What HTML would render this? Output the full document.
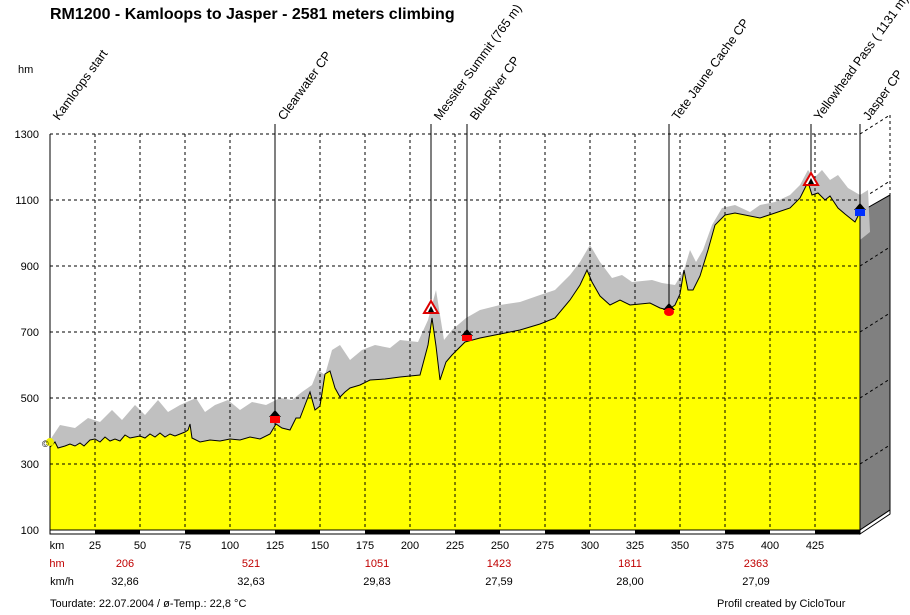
<!DOCTYPE html>
<html><head><meta charset="utf-8"><style>
body{margin:0;background:#fff;}
svg text{font-family:"Liberation Sans",Arial,sans-serif;}
</style></head><body>
<svg width="910" height="610" xmlns="http://www.w3.org/2000/svg">
<rect width="910" height="610" fill="#fff"/>
<text x="50" y="19" font-size="16" font-weight="bold">RM1200  - Kamloops to Jasper - 2581 meters climbing</text>
<text x="18" y="73" font-size="11">hm</text>
<polygon points="860,212 890,195 890,510 860,530" fill="#808080" stroke="#000" stroke-width="1"/>
<g stroke="#000" stroke-width="1" stroke-dasharray="3,3" fill="none">
<line x1="860" y1="134" x2="890" y2="115"/>
<line x1="890" y1="115" x2="890" y2="195"/>
<line x1="860" y1="200" x2="890" y2="181"/>
<line x1="860" y1="266" x2="890" y2="247"/>
<line x1="860" y1="332" x2="890" y2="313"/>
<line x1="860" y1="398" x2="890" y2="379"/>
<line x1="860" y1="464" x2="890" y2="445"/>
</g>
<polygon fill="#c0c0c0" points="50,440 60,425 75,428 88,418 100,422 112,410 122,420 135,405 145,415 158,400 168,412 180,405 196,398 205,412 215,405 228,400 240,410 252,402 266,405 280,398 292,400 302,392 312,385 318,370 325,375 332,350 340,345 350,360 362,350 375,345 390,348 400,340 418,342 428,320 436,290 444,340 452,330 466,318 480,310 500,305 520,302 540,295 555,290 570,275 580,262 590,245 600,262 612,278 622,275 632,282 652,280 662,283 675,285 684,270 690,250 696,262 703,250 712,225 722,208 735,205 750,212 760,205 775,202 790,195 800,185 808,170 814,178 822,170 830,180 838,175 848,188 860,195 868,190 870,232 860,240 860,530 50,530"/>
<polygon fill="#ffff00" stroke="#000" stroke-width="1" points="50,447 55,442 58,448 65,446 70,444 75,446 80,443 84,446 90,440 95,439 100,442 105,437 110,441 115,439 120,441 125,435 130,438 135,437 140,436 145,438 150,434 155,437 160,433 165,437 170,434 175,436 180,434 185,432 188,430 190,424 192,438 200,442 210,440 220,441 230,439 240,440 250,437 260,439 270,434 276,424 282,428 290,430 296,418 300,418 305,405 310,392 315,410 320,406 325,374 330,371 335,388 340,397 345,392 350,388 360,385 370,380 385,379 400,377 420,375 428,345 432,318 436,346 440,380 446,362 452,355 465,342 480,338 500,334 520,330 540,324 555,318 570,300 580,285 587,270 592,282 600,296 610,305 620,300 630,305 650,303 660,308 668,310 675,305 680,294 684,270 688,290 693,290 700,276 708,250 715,225 725,215 735,213 750,216 760,218 775,213 790,208 800,198 808,182 812,195 818,193 825,200 830,196 838,208 845,214 855,222 860,212 860,530 50,530"/>
<g stroke="#000" stroke-width="1" stroke-dasharray="3,3" fill="none">
<line x1="50" y1="134" x2="860" y2="134"/>
<line x1="50" y1="200" x2="860" y2="200"/>
<line x1="50" y1="266" x2="860" y2="266"/>
<line x1="50" y1="332" x2="860" y2="332"/>
<line x1="50" y1="398" x2="860" y2="398"/>
<line x1="50" y1="464" x2="860" y2="464"/>
<line x1="95" y1="134" x2="95" y2="530"/><line x1="140" y1="134" x2="140" y2="530"/>
<line x1="185" y1="134" x2="185" y2="530"/><line x1="230" y1="134" x2="230" y2="530"/>
<line x1="275" y1="134" x2="275" y2="530"/><line x1="320" y1="134" x2="320" y2="530"/>
<line x1="365" y1="134" x2="365" y2="530"/><line x1="410" y1="134" x2="410" y2="530"/>
<line x1="455" y1="134" x2="455" y2="530"/><line x1="500" y1="134" x2="500" y2="530"/>
<line x1="545" y1="134" x2="545" y2="530"/><line x1="590" y1="134" x2="590" y2="530"/>
<line x1="635" y1="134" x2="635" y2="530"/><line x1="680" y1="134" x2="680" y2="530"/>
<line x1="725" y1="134" x2="725" y2="530"/><line x1="770" y1="134" x2="770" y2="530"/>
<line x1="815" y1="134" x2="815" y2="530"/>
</g>
<line x1="50" y1="134" x2="50" y2="530" stroke="#000"/>
<line x1="860" y1="134" x2="860" y2="530" stroke="#000"/>
<g stroke="#000" stroke-width="1">
<line x1="275" y1="124" x2="275" y2="412"/>
<line x1="431" y1="124" x2="431" y2="302"/>
<line x1="467" y1="124" x2="467" y2="330"/>
<line x1="669" y1="124" x2="669" y2="305"/>
<line x1="811" y1="124" x2="811" y2="175"/>
<line x1="860" y1="124" x2="860" y2="205"/>
</g>
<polygon points="269,417 275,410 281,417" fill="#000"/><rect x="270" y="416" width="10" height="7" fill="#f00"/>
<polygon points="424,313 431,301 438,313" fill="#fff" stroke="#d00" stroke-width="2"/><polygon points="428,312 431,306 434,312" fill="#000"/>
<polygon points="461,336 467,329 473,336" fill="#000"/><rect x="462" y="335" width="10" height="6" fill="#f00"/>
<polygon points="663,310 669,303 675,310" fill="#000"/><ellipse cx="669" cy="312" rx="5" ry="4" fill="#f00"/>
<polygon points="804,185 811,173 818,185" fill="#fff" stroke="#d00" stroke-width="2"/><polygon points="808,184 811,178 814,184" fill="#000"/>
<polygon points="854,210 860,203 866,210" fill="#000"/><rect x="855" y="209" width="10" height="7" fill="#0030ff"/>
<circle cx="50" cy="442" r="4" fill="#ee0"/><text x="42" y="447" font-size="9">©</text>
<rect x="50" y="530" width="810" height="4" fill="#fff" stroke="#000" stroke-width="1"/>
<g fill="#000"><rect x="95" y="530" width="45" height="4"/><rect x="185" y="530" width="45" height="4"/><rect x="275" y="530" width="45" height="4"/><rect x="365" y="530" width="45" height="4"/><rect x="455" y="530" width="45" height="4"/><rect x="545" y="530" width="45" height="4"/><rect x="635" y="530" width="45" height="4"/><rect x="725" y="530" width="45" height="4"/><rect x="815" y="530" width="45" height="4"/></g>
<polygon points="860,530 890,510 890,514 860,534" fill="#fff" stroke="#000"/>
<g font-size="11" text-anchor="end">
<text x="39" y="138">1300</text><text x="39" y="204">1100</text><text x="39" y="270">900</text>
<text x="39" y="336">700</text><text x="39" y="402">500</text><text x="39" y="468">300</text><text x="39" y="534">100</text>
</g>
<g font-size="11" text-anchor="middle">
<text x="57" y="549">km</text>
<text x="95" y="549">25</text><text x="140" y="549">50</text><text x="185" y="549">75</text><text x="230" y="549">100</text>
<text x="275" y="549">125</text><text x="320" y="549">150</text><text x="365" y="549">175</text><text x="410" y="549">200</text>
<text x="455" y="549">225</text><text x="500" y="549">250</text><text x="545" y="549">275</text><text x="590" y="549">300</text>
<text x="635" y="549">325</text><text x="680" y="549">350</text><text x="725" y="549">375</text><text x="770" y="549">400</text>
<text x="815" y="549">425</text>
</g>
<g font-size="11" fill="#c00000" text-anchor="middle">
<text x="57" y="567">hm</text><text x="125" y="567">206</text><text x="251" y="567">521</text><text x="377" y="567">1051</text>
<text x="499" y="567">1423</text><text x="630" y="567">1811</text><text x="756" y="567">2363</text>
</g>
<g font-size="11" text-anchor="middle">
<text x="62" y="585">km/h</text><text x="125" y="585">32,86</text><text x="251" y="585">32,63</text><text x="377" y="585">29,83</text>
<text x="499" y="585">27,59</text><text x="630" y="585">28,00</text><text x="756" y="585">27,09</text>
</g>
<text x="50" y="607" font-size="11">Tourdate: 22.07.2004  /  ø-Temp.: 22,8 °C</text>
<text x="717" y="607" font-size="11">Profil created by CicloTour</text>
<g font-size="12.5">
<text transform="translate(59,121) rotate(-54)">Kamloops  start</text>
<text transform="translate(284,121) rotate(-54)">Clearwater CP</text>
<text transform="translate(440,121) rotate(-54)">Messiter Summit (765 m)</text>
<text transform="translate(476,121) rotate(-54)">BlueRiver CP</text>
<text transform="translate(678,121) rotate(-54)">Tete Jaune Cache CP</text>
<text transform="translate(820,121) rotate(-54)">Yellowhead Pass ( 1131 m)</text>
<text transform="translate(869,121) rotate(-54)">Jasper CP</text>
</g>
</svg>
</body></html>
